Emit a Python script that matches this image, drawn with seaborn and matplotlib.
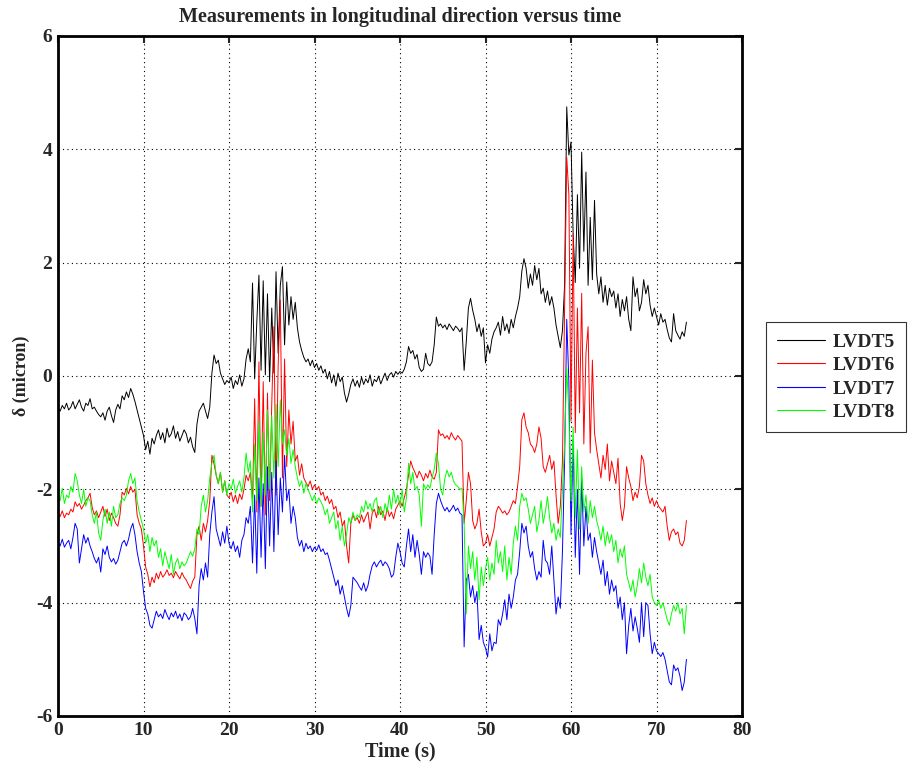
import numpy as np
import pandas as pd
import matplotlib
matplotlib.use("Agg")
import matplotlib.pyplot as plt
import seaborn as sns

# sample interval 0.25 s, 0 .. 73.5 s
dt = 0.25

lvdt5 = [
 -0.56, -0.62, -0.52, -0.58, -0.48, -0.60, -0.55, -0.45, -0.58, -0.50, -0.42, -0.55, -0.62, -0.48, -0.52, -0.40, -0.58, -0.55, -0.62, -0.68,
 -0.72, -0.65, -0.78, -0.62, -0.55, -0.70, -0.82, -0.60, -0.50, -0.58, -0.35, -0.42, -0.28, -0.38, -0.22, -0.32, -0.45, -0.60, -0.75, -0.90,
 -1.05, -1.30, -1.15, -1.38, -1.10, -1.20, -1.05, -0.95, -1.12, -1.00, -1.18, -0.92, -1.08, -1.02, -0.88, -1.10, -0.98, -1.15, -1.05, -0.95,
 -1.02, -1.18, -1.08, -1.25, -1.35, -0.85, -0.62, -0.55, -0.48, -0.62, -0.75, -0.55, 0.05, 0.37, 0.22, 0.28, 0.05, -0.05, -0.15, -0.08,
 -0.12, -0.02, -0.22, -0.08, -0.15, 0.02, -0.18, -0.05, 0.30, 0.48, 0.25, 1.64, -0.05, 0.95, 1.78, 0.10, 1.68, 0.02, 1.45, -0.10,
 1.20, 0.05, 1.84, 0.40, 1.60, 1.93, 0.55, 1.66, 0.90, 1.40, 1.00, 1.30, 0.85, 0.60, 0.45, 0.33, 0.25, 0.30, 0.18, 0.28,
 0.15, 0.22, 0.10, 0.18, 0.05, 0.12, -0.05, 0.08, -0.12, 0.02, -0.18, 0.05, -0.10, -0.02, -0.30, -0.46, -0.32, -0.15, -0.05, -0.18,
 -0.08, -0.20, -0.02, -0.15, -0.05, -0.12, 0.02, -0.18, -0.06, -0.10, 0.00, -0.14, -0.04, 0.05, -0.08, 0.02, 0.06, -0.02, 0.08, 0.03,
 0.08, 0.05, 0.12, 0.25, 0.52, 0.40, 0.45, 0.30, 0.38, 0.15, 0.08, 0.12, 0.40, 0.22, 0.18, 0.25, 0.55, 1.04, 0.88, 0.92,
 0.85, 0.90, 0.82, 0.92, 0.86, 0.80, 0.88, 0.84, 0.78, 0.85, 0.10, 0.60, 1.20, 1.37, 1.16, 1.00, 0.78, 0.92, 0.70, 0.85,
 0.23, 0.55, 0.40, 0.65, 0.78, 0.85, 0.95, 0.72, 1.05, 0.80, 0.92, 0.75, 1.00, 0.85, 1.05, 1.20, 1.40, 1.85, 2.07, 1.90,
 1.55, 1.80, 1.60, 1.95, 1.70, 1.90, 1.45, 1.55, 1.30, 1.50, 1.25, 1.40, 1.20, 0.90, 0.70, 0.50, 0.80, 1.60, 4.75, 3.90,
 4.13, 2.50, 1.65, 3.20, 1.90, 3.95, 2.20, 3.60, 1.60, 2.80, 1.70, 3.10, 1.80, 1.45, 1.75, 1.30, 1.60, 1.25, 1.55, 1.40,
 1.50, 1.20, 1.45, 1.05, 1.35, 1.15, 1.40, 1.00, 0.80, 1.75, 1.40, 1.55, 1.15, 1.30, 1.70, 1.45, 1.60, 1.25, 1.05, 1.20,
 1.05, 0.90, 1.10, 0.95, 1.00, 0.82, 0.67, 0.60, 1.10, 0.80, 0.72, 0.65, 0.78, 0.70, 0.95,
]

lvdt6 = [
 -2.40, -2.48, -2.38, -2.50, -2.42, -2.45, -2.35, -2.40, -2.22, -2.30, -2.25, -2.35, -2.28, -2.20, -2.15, -2.07, -2.32, -2.45, -2.38, -2.50,
 -2.40, -2.30, -2.48, -2.35, -2.55, -2.42, -2.50, -2.60, -2.65, -2.45, -2.05, -2.10, -1.98, -2.08, -1.95, -2.05, -2.00, -2.45, -2.60, -2.70,
 -3.00, -3.37, -3.50, -3.72, -3.55, -3.65, -3.48, -3.58, -3.45, -3.55, -3.50, -3.42, -3.52, -3.48, -3.56, -3.45, -3.52, -3.58, -3.47, -3.55,
 -3.60, -3.68, -3.75, -3.62, -3.55, -2.80, -2.65, -2.90, -2.60, -2.75, -2.55, -2.20, -1.40, -1.55, -1.75, -1.90, -1.70, -2.05, -1.85, -2.10,
 -2.15, -2.05, -2.22, -2.10, -2.25, -2.08, -2.18, -2.00, -1.75, -1.85, -1.70, -2.20, -0.40, -2.40, 0.25, -2.30, -0.10, -2.45, -0.30, -2.20,
 -0.50, 0.87, -2.10, 0.20, 1.34, -1.80, 0.30, -1.60, -0.60, -1.20, -0.80, -1.50, -1.40, -1.75, -1.55, -1.80, -1.88, -1.95, -1.85, -2.00,
 -1.92, -2.00, -1.95, -2.10, -2.05, -2.20, -2.12, -2.25, -2.18, -2.35, -2.30, -2.50, -2.40, -2.65, -2.55, -3.00, -3.30, -2.60, -2.45, -2.55,
 -2.50, -2.60, -2.45, -2.58, -2.48, -2.40, -2.70, -2.42, -2.35, -2.50, -2.30, -2.45, -2.38, -2.55, -2.32, -2.48, -2.40, -2.52, -2.35, -2.28,
 -2.20, -2.30, -2.15, -2.00, -1.75, -1.50, -1.62, -1.70, -1.80, -1.68, -1.75, -1.85, -1.72, -1.80, -1.66, -1.78, -1.82, -1.70, -0.95, -1.05,
 -1.02, -1.10, -1.05, -1.12, -1.00, -1.08, -1.13, -1.05, -1.10, -1.15, -2.60, -2.20, -1.70, -1.90, -2.55, -2.70, -2.60, -2.35, -2.75, -3.00,
 -2.95, -2.80, -3.00, -2.85, -2.70, -2.40, -2.30, -2.35, -2.42, -2.38, -2.45, -2.40, -2.30, -2.20, -2.25, -1.95, -1.60, -0.77, -0.65, -0.90,
 -1.00, -1.20, -1.25, -1.35, -1.20, -0.90, -1.10, -1.60, -1.70, -1.55, -1.40, -1.65, -1.50, -2.10, -2.60, -2.30, -1.50, 1.20, 3.86, 3.20,
 -0.80, 2.50, -1.00, 1.20, -0.65, 1.46, -1.20, 0.40, 0.87, -1.36, 0.28, -1.00, -1.30, -1.55, -1.80, -1.40, -1.65, -1.20, -1.85, -1.50,
 -1.70, -1.90, -1.45, -2.25, -2.55, -2.30, -1.60, -1.80, -1.95, -2.20, -2.05, -2.15, -1.95, -1.40, -1.50, -1.90, -2.10, -2.25, -2.15, -2.30,
 -2.20, -2.30, -2.35, -2.40, -2.30, -2.65, -2.90, -2.75, -2.70, -2.80, -2.75, -2.95, -3.00, -2.90, -2.55,
]

lvdt7 = [
 -2.92, -3.00, -2.88, -3.02, -2.95, -2.90, -3.05, -2.85, -2.60, -2.70, -3.30, -3.05, -2.80, -2.95, -2.85, -3.00, -3.10, -3.22, -3.30, -3.20,
 -3.46, -3.05, -3.15, -3.00, -3.20, -3.28, -3.22, -3.32, -3.25, -3.10, -2.95, -2.90, -3.00, -2.88, -2.70, -2.60, -2.80, -3.10, -3.30, -3.45,
 -3.80, -4.10, -4.20, -4.40, -4.45, -4.30, -4.15, -4.25, -4.20, -4.28, -4.12, -4.22, -4.30, -4.18, -4.25, -4.15, -4.28, -4.20, -4.32, -4.18,
 -4.22, -4.30, -4.25, -4.10, -4.28, -4.55, -3.70, -3.40, -3.60, -3.30, -3.55, -2.80, -2.40, -2.13, -2.70, -2.85, -3.00, -2.75, -2.95, -2.65,
 -2.95, -3.05, -2.92, -3.10, -3.00, -3.20, -2.90, -2.80, -2.50, -2.60, -2.30, -3.30, -2.10, -3.48, -1.80, -3.20, -1.90, -3.40, -1.60, -3.00,
 -1.70, -3.10, -1.50, -2.80, -1.80, -2.40, -1.40, -2.20, -2.00, -2.60, -2.30, -2.50, -2.85, -3.00, -2.90, -3.10, -2.95, -3.05, -3.00, -3.10,
 -3.02, -3.08, -2.98, -3.10, -3.05, -3.15, -3.12, -3.25, -3.40, -3.55, -3.70, -3.60, -3.85, -3.70, -3.90, -4.10, -4.25, -4.05, -3.55, -3.60,
 -3.65, -3.72, -3.78, -3.65, -3.80, -3.70, -3.50, -3.35, -3.28, -3.37, -3.30, -3.25, -3.35, -3.28, -3.32, -3.40, -3.55, -3.50, -3.20, -2.95,
 -3.10, -3.30, -3.37, -3.00, -2.70, -3.10, -2.80, -3.20, -2.90, -3.15, -3.50, -3.10, -3.20, -3.12, -3.18, -3.50, -2.80, -2.25, -2.07, -2.20,
 -2.30, -2.38, -2.32, -2.40, -2.35, -2.28, -2.38, -2.33, -2.42, -2.45, -4.78, -3.60, -3.50, -3.90, -3.70, -4.00, -3.80, -4.65, -4.40, -4.70,
 -4.80, -4.96, -4.55, -4.85, -4.70, -4.72, -4.30, -4.40, -4.20, -3.95, -4.30, -3.85, -4.10, -3.90, -3.60, -3.50, -3.10, -2.60, -2.77, -2.65,
 -3.00, -3.20, -3.10, -3.40, -3.60, -3.45, -3.55, -2.90, -3.25, -3.30, -3.50, -3.00, -3.60, -4.20, -3.90, -4.10, -3.10, -1.50, 1.00, -0.10,
 -2.80, -1.13, -3.20, -2.00, -3.50, -1.80, -3.00, -2.30, -2.90, -2.77, -3.20, -2.85, -3.10, -3.30, -3.50, -3.25, -3.70, -3.45, -3.85, -3.60,
 -3.80, -3.70, -4.10, -3.90, -4.30, -4.00, -4.90, -4.40, -4.10, -4.50, -4.25, -4.45, -4.70, -4.00, -4.60, -4.00, -4.05, -4.55, -4.90, -4.70,
 -4.85, -4.90, -4.95, -4.88, -5.00, -5.20, -5.40, -5.45, -5.10, -5.20, -5.15, -5.30, -5.55, -5.40, -5.00,
]

lvdt8 = [
 -2.05, -2.20, -1.98, -2.25, -2.10, -2.15, -1.95, -2.05, -1.72, -1.85, -2.10, -2.25, -2.00, -2.30, -2.15, -2.20, -2.45, -2.60, -2.40, -2.77,
 -2.90, -2.55, -2.35, -2.60, -2.40, -2.65, -2.30, -2.50, -2.45, -2.25, -2.15, -2.20, -2.10, -1.85, -1.72, -1.90, -1.80, -2.20, -2.40, -2.55,
 -2.70, -2.95, -2.80, -3.10, -2.85, -3.00, -2.90, -3.20, -3.05, -3.35, -3.10, -3.25, -3.40, -3.15, -3.50, -3.30, -3.22, -3.40, -3.28, -3.35,
 -3.30, -3.20, -3.10, -3.18, -3.05, -2.70, -2.80, -2.30, -2.10, -2.40, -2.20, -1.80, -1.54, -1.40, -1.75, -1.90, -1.70, -2.05, -1.85, -2.10,
 -1.90, -2.00, -1.82, -2.07, -1.95, -1.85, -2.05, -1.80, -1.36, -1.70, -1.50, -2.40, -1.20, -2.20, -0.80, -2.30, -1.00, -2.10, -0.60, -2.00,
 -0.70, -1.80, -0.50, -1.60, -0.42, -1.20, -0.95, -1.40, -1.10, -1.54, -1.30, -1.60, -1.80, -1.95, -1.85, -2.07, -1.90, -2.00, -2.10, -2.20,
 -2.10, -2.25, -2.15, -2.22, -2.30, -2.45, -2.35, -2.60, -2.50, -2.40, -2.70, -2.55, -2.90, -2.65, -3.00, -2.80, -2.50, -2.60, -2.40, -2.55,
 -2.45, -2.50, -2.30, -2.40, -2.20, -2.35, -2.25, -2.40, -2.20, -2.15, -2.45, -2.30, -2.50, -2.25, -2.40, -2.10, -2.35, -2.00, -2.25, -2.10,
 -2.30, -2.00, -2.40, -2.15, -1.54, -1.90, -1.70, -2.00, -1.95, -2.10, -2.65, -1.90, -2.00, -1.92, -1.98, -1.80, -1.65, -1.36, -1.55, -2.00,
 -2.10, -1.80, -1.66, -1.78, -1.70, -1.85, -1.92, -1.95, -2.00, -1.98, -2.60, -4.20, -3.00, -3.40, -3.10, -3.60, -3.20, -3.95, -3.37, -3.70,
 -3.40, -3.20, -3.60, -3.30, -3.50, -2.90, -3.30, -3.10, -3.45, -3.00, -3.60, -3.20, -3.50, -2.95, -2.65, -2.90, -2.30, -2.07, -2.20, -2.15,
 -2.35, -2.60, -2.45, -2.30, -2.75, -2.55, -2.20, -2.60, -2.40, -2.13, -2.50, -2.77, -2.60, -2.90, -2.70, -2.85, -2.00, -1.20, 0.15, -0.65,
 -2.20, -0.90, -2.50, -1.30, -2.70, -1.60, -2.40, -2.10, -2.60, -2.20, -2.50, -2.30, -2.55, -2.70, -2.90, -2.65, -3.00, -2.75, -2.95, -2.80,
 -3.10, -2.90, -3.30, -3.05, -3.20, -3.00, -3.50, -3.65, -3.80, -3.60, -3.90, -3.70, -3.40, -3.65, -3.30, -3.55, -3.70, -3.50, -3.90, -4.00,
 -4.05, -3.95, -4.10, -4.00, -4.15, -4.30, -4.40, -4.20, -4.05, -4.15, -4.00, -4.20, -4.10, -4.55, -4.05,
]

series_names = ["LVDT5", "LVDT6", "LVDT7", "LVDT8"]
series_colors = ["#000000", "#ff0000", "#0000ff", "#00ff00"]
x_ticks = [0, 10, 20, 30, 40, 50, 60, 70, 80]
y_ticks = [-6, -4, -2, 0, 2, 4, 6]

all_series = [lvdt5, lvdt6, lvdt7, lvdt8]
n = len(lvdt5)
for s in all_series:
    if len(s) != n:
        raise ValueError("length mismatch")
time = np.arange(n) * dt

frames = []
for name, vals in zip(series_names, all_series):
    frames.append(pd.DataFrame({"Time": time, "delta": vals, "series": name}))
df = pd.concat(frames, ignore_index=True)

sns.set_style("white")
plt.rcParams["font.family"] = ["Liberation Serif", "DejaVu Serif"]
plt.rcParams["font.weight"] = "bold"

fig = plt.figure(figsize=(9.15, 7.76), dpi=100)
ax = fig.add_axes([58 / 915, 60 / 776, 684 / 915, 680 / 776])

sns.lineplot(data=df, x="Time", y="delta", hue="series",
             palette=dict(zip(series_names, series_colors)),
             estimator=None, sort=False, linewidth=0.7, ax=ax, legend=False)

ax.set_xlim(0, 80)
ax.set_ylim(-6, 6)
ax.set_xticks(x_ticks)
ax.set_yticks(y_ticks)
ax.set_xticklabels([str(v) for v in x_ticks], fontsize=14, fontweight="bold")
ax.set_yticklabels([str(v) for v in y_ticks], fontsize=14, fontweight="bold")
ax.grid(True, color="black", linestyle=(0, (1, 3)), linewidth=0.8)
ax.tick_params(direction="in", length=5, width=1.5, top=True, right=True, pad=4)
for sp in ax.spines.values():
    sp.set_color("black")
    sp.set_linewidth(2)

ax.set_title("Measurements in longitudinal direction versus time",
             fontsize=14.5, fontweight="bold", pad=10)
ax.set_xlabel("Time (s)", fontsize=14.5, fontweight="bold", labelpad=2)
ax.set_ylabel("\u03b4 (micron)", fontsize=13, fontweight="bold", labelpad=4)

handles = [plt.Line2D([], [], color=c, linewidth=0.8) for c in series_colors]
leg = ax.legend(handles, series_names, loc="center left",
                bbox_to_anchor=(766 / 915, (776 - 377) / 776),
                bbox_transform=fig.transFigure, borderaxespad=0,
                frameon=True, fancybox=False,
                prop={"family": "Liberation Serif", "weight": "bold", "size": 14},
                handlelength=2.5, borderpad=0.55, labelspacing=0.3, handletextpad=0.4)
leg.get_frame().set_edgecolor("black")
leg.get_frame().set_linewidth(0.8)

fig.savefig("out.png", dpi=100)
